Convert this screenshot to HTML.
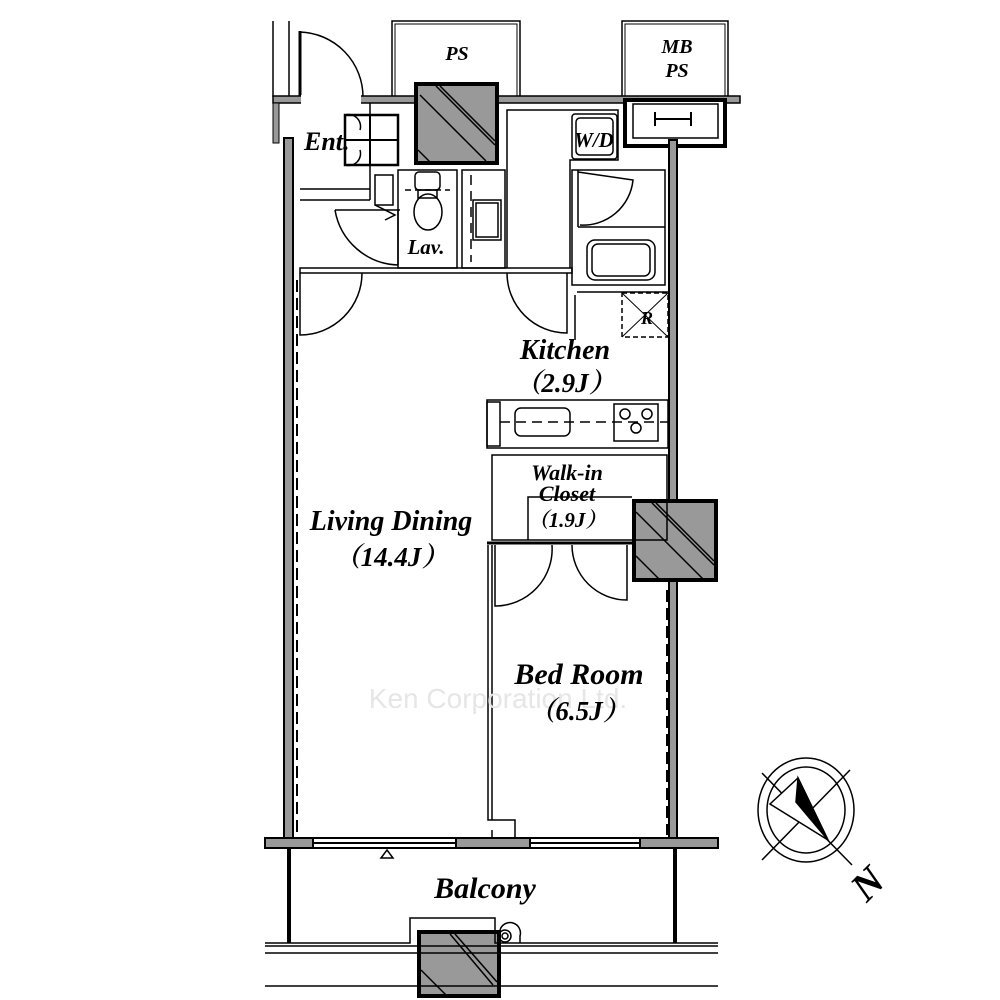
<!DOCTYPE html>
<html><head><meta charset="utf-8"><style>
html,body{margin:0;padding:0;background:#fff}
svg{display:block}
text{font-family:"Liberation Serif","Noto Serif CJK SC",serif;font-weight:bold;font-style:italic;fill:#000}
</style></head><body>
<svg width="1000" height="1000" viewBox="0 0 1000 1000" xmlns="http://www.w3.org/2000/svg">
<g fill="none" stroke="#000" stroke-width="1.5">
<rect x="392" y="21" width="128" height="76"/>
<rect x="395" y="24" width="122" height="73" stroke-width="1"/>
<rect x="622" y="21" width="106" height="76"/>
<rect x="625" y="24" width="100" height="73" stroke-width="1"/>
<line x1="273" y1="21" x2="273" y2="97"/><line x1="289" y1="21" x2="289" y2="97"/>
<line x1="300" y1="31" x2="300" y2="97" stroke-width="3"/>
<path d="M300,32 A65,65 0 0 1 363,97"/>
</g>
<rect x="273" y="96" width="467" height="7" fill="#999" stroke="#000" stroke-width="1.5"/>
<rect x="301" y="95" width="60" height="9" fill="#fff"/>
<rect x="625" y="100" width="100" height="46" fill="#fff" stroke="#000" stroke-width="4"/>
<rect x="633" y="104" width="85" height="34" fill="#fff" stroke="#000" stroke-width="1.5"/>
<path d="M655,112 v14 M655,119 h36 M691,112 v14" stroke="#000" stroke-width="2" fill="none"/>
<rect x="273" y="103" width="6" height="40" fill="#999" stroke="#000"/>
<rect x="284" y="138" width="9" height="700" fill="#999" stroke="#000" stroke-width="2"/>
<line x1="297" y1="280" x2="297" y2="835" stroke="#000" stroke-width="2" stroke-dasharray="12,6"/>
<rect x="669" y="140" width="8" height="698" fill="#999" stroke="#000" stroke-width="2"/>
<line x1="667" y1="590" x2="667" y2="835" stroke="#000" stroke-width="2" stroke-dasharray="12,6"/>
<g stroke="#000">
<rect x="416" y="84" width="81" height="79" fill="#999" stroke-width="4"/>
<path d="M420,95 L486,161 M436,86 L495,145 M440,86 L495,141 M418,150 L430,162" stroke-width="1.5"/>
<rect x="634" y="501" width="82" height="79" fill="#999" stroke-width="4"/>
<path d="M636,512 L703,579 M652,503 L714,565 M656,503 L714,561 M636,556 L659,579" stroke-width="1.5"/>
<rect x="419" y="932" width="80" height="64" fill="#999" stroke-width="4"/>
<path d="M421,970 L447,996 M450,934 L493,985 M455,934 L497,982" stroke-width="1.5"/>
</g>
<g fill="none" stroke="#000" stroke-width="1.5">
<rect x="345" y="115" width="53" height="50" stroke-width="2.5"/>
<line x1="370" y1="115" x2="370" y2="165" stroke-width="2"/><line x1="345" y1="140" x2="398" y2="140" stroke-width="2"/>
<path d="M345,115 A12,12 0 0 1 360,130 M345,165 A12,12 0 0 0 360,150"/>
<line x1="300" y1="189" x2="370" y2="189"/><line x1="300" y1="200" x2="370" y2="200"/>
<line x1="370" y1="103" x2="370" y2="200"/>
<rect x="375" y="175" width="18" height="30"/>
<path d="M335,210 h65 M335,210 A66,66 0 0 0 398,265 M398,210 v55" />
<path d="M375,205 L395,215 L385,220"/>
<rect x="300" y="268" width="272" height="5"/>
<rect x="398" y="170" width="59" height="98"/>
<path d="M405,190 h45" stroke-dasharray="6,4"/>
<rect x="415" y="172" width="25" height="18" rx="4"/>
<rect x="418" y="190" width="19" height="8"/>
<ellipse cx="428" cy="212" rx="14" ry="18"/>
<rect x="462" y="170" width="43" height="98"/>
<line x1="471" y1="175" x2="471" y2="262" stroke-dasharray="10,6"/>
<rect x="473" y="200" width="28" height="40"/><rect x="476" y="203" width="22" height="34"/>
<path d="M507,268 V110 H618 V160 H570 V268"/>
<rect x="572" y="114" width="45" height="45" rx="3"/>
<rect x="576" y="118" width="37" height="37" rx="4"/>
<rect x="572" y="170" width="93" height="115"/>
<path d="M578,170 v57 M578,172 L633,180 A50,50 0 0 1 580,225"/>
<line x1="578" y1="227" x2="665" y2="227"/>
<rect x="587" y="240" width="68" height="40" rx="8"/><rect x="592" y="244" width="58" height="32" rx="6"/>
<path d="M575,295 V340"/><path d="M577,292 H668"/>
<rect x="622" y="293" width="46" height="44" stroke-dasharray="5,3"/>
<path d="M622,293 L668,337 M668,293 L622,337" stroke-width="1"/>
<path d="M300,273 V335 A62,62 0 0 0 362,273"/>
<path d="M507,273 A60,60 0 0 0 567,333 V273"/>
<rect x="487" y="400" width="181" height="48"/>
<rect x="487" y="402" width="13" height="44"/>
<line x1="500" y1="422" x2="668" y2="422" stroke-dasharray="10,6"/>
<rect x="515" y="408" width="55" height="28" rx="6"/>
<rect x="614" y="404" width="44" height="37"/>
<circle cx="625" cy="414" r="5"/><circle cx="647" cy="414" r="5"/><circle cx="636" cy="428" r="5"/>
<rect x="492" y="455" width="175" height="85"/>
<path d="M528,540 V497 H632"/>
<line x1="487" y1="543" x2="633" y2="543" stroke-width="3"/>
<path d="M495,545 V606 A57,57 0 0 0 552,545"/>
<path d="M572,545 A55,55 0 0 0 627,600 V545"/>
<path d="M488,545 V820 H492 V545 M492,820 H515 V838 M492,830 V838"/>
<line x1="289" y1="848" x2="289" y2="943" stroke-width="4"/>
<line x1="675" y1="848" x2="675" y2="943" stroke-width="4"/>
<path d="M265,943 H410 V918 H495 V943 H718"/>
<path d="M265,946 H718"/>
<path d="M265,953 H718 M265,986 H718"/>
<circle cx="505" cy="936" r="6"/><circle cx="505" cy="936" r="3"/>
<path d="M500,930 A10,10 0 0 1 520,936 V943"/>
<path d="M381,858 L387,850 L393,858 Z"/>
</g>
<rect x="265" y="838" width="453" height="10" fill="#fff" stroke="#000" stroke-width="2"/>
<g fill="#999" stroke="#000" stroke-width="2">
<rect x="265" y="838" width="48" height="10"/>
<rect x="456" y="838" width="74" height="10"/>
<rect x="640" y="838" width="78" height="10"/>
</g>
<line x1="313" y1="843" x2="456" y2="843" stroke="#000" stroke-width="2"/>
<line x1="530" y1="843" x2="640" y2="843" stroke="#000" stroke-width="2"/>
<g fill="none" stroke="#000" stroke-width="1.5">
<ellipse cx="806" cy="810" rx="48" ry="52"/>
<ellipse cx="806" cy="810" rx="39" ry="43"/>
<line x1="762" y1="773" x2="852" y2="865"/>
<line x1="850" y1="770" x2="762" y2="860"/>
<path d="M798,778 L828,840 L770,804 Z" fill="#fff"/>
<path d="M798,778 L828,840 L796,802 Z" fill="#000"/>
</g>
<text x="0" y="0" font-size="40" transform="translate(877,893) rotate(-45)" text-anchor="middle">N</text>
<text x="498" y="708" font-size="28" text-anchor="middle" style="font-family:'Liberation Sans',sans-serif;font-weight:normal;font-style:normal;fill:#e6e6e6">Ken Corporation Ltd.</text>
<text x="304" y="150" font-size="26">Ent.</text>
<text x="457" y="60" font-size="20" text-anchor="middle">PS</text>
<text x="677" y="53" font-size="20" text-anchor="middle">MB</text>
<text x="677" y="77" font-size="20" text-anchor="middle">PS</text>
<text x="594" y="147" font-size="21" text-anchor="middle">W/D</text>
<text x="426" y="254" font-size="21" text-anchor="middle">Lav.</text>
<text x="647" y="324" font-size="18" text-anchor="middle">R</text>
<text x="565" y="359" font-size="28" text-anchor="middle">Kitchen</text>
<text x="565" y="392" font-size="27" text-anchor="middle">（2.9J）</text>
<text x="567" y="480" font-size="22" text-anchor="middle">Walk-in</text>
<text x="567" y="501" font-size="22" text-anchor="middle">Closet</text>
<text x="567" y="527" font-size="21" text-anchor="middle">（1.9J）</text>
<text x="391" y="530" font-size="28" text-anchor="middle">Living Dining</text>
<text x="391" y="566" font-size="27" text-anchor="middle">（14.4J）</text>
<text x="579" y="684" font-size="30" text-anchor="middle">Bed Room</text>
<text x="579" y="720" font-size="27" text-anchor="middle">（6.5J）</text>
<text x="485" y="898" font-size="30" text-anchor="middle">Balcony</text>
</svg>
</body></html>
